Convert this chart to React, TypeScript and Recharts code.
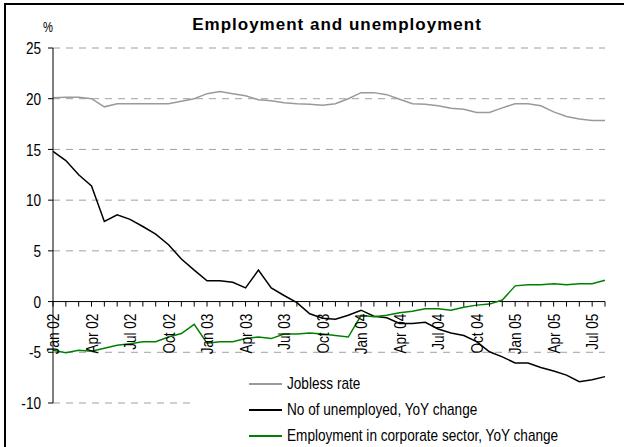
import React from "react";
import { LineChart, Line, XAxis, YAxis, ReferenceLine } from "recharts";

// monthly, Jan 02 .. Aug 05
const months = [
  "Jan 02", "Feb 02", "Mar 02", "Apr 02", "May 02", "Jun 02", "Jul 02", "Aug 02", "Sep 02", "Oct 02", "Nov 02", "Dec 02",
  "Jan 03", "Feb 03", "Mar 03", "Apr 03", "May 03", "Jun 03", "Jul 03", "Aug 03", "Sep 03", "Oct 03", "Nov 03", "Dec 03",
  "Jan 04", "Feb 04", "Mar 04", "Apr 04", "May 04", "Jun 04", "Jul 04", "Aug 04", "Sep 04", "Oct 04", "Nov 04", "Dec 04",
  "Jan 05", "Feb 05", "Mar 05", "Apr 05", "May 05", "Jun 05", "Jul 05", "Aug 05",
];

const joblessRate = [
  20.1, 20.15, 20.15, 20.0, 19.2, 19.5, 19.5, 19.5, 19.5, 19.5, 19.75, 20.0,
  20.5, 20.7, 20.5, 20.3, 19.9, 19.8, 19.6, 19.5, 19.45, 19.35, 19.5, 20.0,
  20.6, 20.6, 20.4, 19.95, 19.5, 19.45, 19.3, 19.05, 18.95, 18.65, 18.65, 19.1,
  19.5, 19.5, 19.3, 18.7, 18.25, 18.0, 17.85, 17.85,
];

const unemployedYoY = [
  14.8, 13.9, 12.5, 11.4, 7.9, 8.55, 8.1, 7.4, 6.65, 5.6, 4.2, 3.1,
  2.05, 2.05, 1.9, 1.35, 3.1, 1.35, 0.6, -0.1, -1.2, -1.65, -1.75, -1.35,
  -0.85, -1.45, -1.6, -2.15, -2.15, -2.05, -2.7, -3.1, -3.35, -3.95, -4.95, -5.45,
  -6.05, -6.05, -6.5, -6.85, -7.25, -7.9, -7.7, -7.4,
];

const corporateYoY = [
  -4.8, -5.05, -4.8, -4.9, -4.6, -4.3, -4.15, -3.95, -3.95, -3.5, -3.15, -2.25,
  -4.1, -3.95, -3.95, -3.65, -3.5, -3.65, -3.2, -3.2, -3.1, -3.2, -3.35, -3.5,
  -1.35, -1.5, -1.35, -1.1, -0.95, -0.7, -0.7, -0.85, -0.55, -0.35, -0.25, 0.15,
  1.55, 1.65, 1.65, 1.75, 1.65, 1.75, 1.75, 2.1,
];

const yTicks = [-10, -5, 0, 5, 10, 15, 20, 25];
const gridValues = [25, 20, 15, 10, 5, -5];

const data = months.map((m, i) => ({
  month: m,
  jobless: joblessRate[i],
  unemployed: unemployedYoY[i],
  corporate: corporateYoY[i],
}));

const FONT = "'Liberation Sans', Arial, sans-serif";
const NARROW = 0.8; // the original uses a condensed face
const GRAY = "#9a9a9a";
const GREEN = "#008000";

// plot geometry
const W = 624;
const H = 447;
const M = { top: 48, right: 19, bottom: 43, left: 0 };
const Y_MIN = -10;
const Y_MAX = 25;
const plotH = H - M.top - M.bottom - 1; // minus x axis height
const zeroY = M.top + ((Y_MAX - 0) / (Y_MAX - Y_MIN)) * plotH;

// category axis crosses at 0, labels every quarter
function MonthTick(props: any) {
  const { x, index, payload } = props;
  return (
    <g>
      <line x1={x} y1={zeroY} x2={x} y2={zeroY + 5} stroke="#000" strokeWidth={1} />
      {index % 3 === 0 && (
        <text
          transform={`translate(${x},${zeroY + 12}) rotate(-90) scale(${NARROW},1)`}
          textAnchor="end"
          dominantBaseline="central"
          fontFamily={FONT}
          fontSize={17}
          fill="#000"
        >
          {payload.value}
        </text>
      )}
    </g>
  );
}

function ValueTick(props: any) {
  const { x, y, payload } = props;
  return (
    <text
      transform={`translate(${x},${y}) scale(${NARROW},1)`}
      textAnchor="end"
      dominantBaseline="central"
      fontFamily={FONT}
      fontSize={17}
      fill="#000"
    >
      {payload.value}
    </text>
  );
}

const legendItems = [
  { label: "Jobless rate", color: GRAY },
  { label: "No of unemployed, YoY change", color: "#000" },
  { label: "Employment in corporate sector, YoY change", color: GREEN },
];

export default function App() {
  return (
    <div
      style={{
        position: "absolute",
        left: 0,
        top: 0,
        width: W,
        height: H,
        overflow: "hidden",
        background: "#fff",
      }}
    >
      {/* frame */}
      <div
        style={{
          position: "absolute",
          left: 4,
          top: 3,
          width: 700,
          height: 500,
          borderTop: "2px solid #000",
          borderLeft: "2px solid #000",
        }}
      />
      <div
        style={{
          position: "absolute",
          left: 0,
          width: 674,
          top: 15,
          textAlign: "center",
          fontFamily: FONT,
          fontWeight: "bold",
          fontSize: 17,
          letterSpacing: 1,
          color: "#000",
          lineHeight: "20px",
        }}
      >
        Employment and unemployment
      </div>
      <div
        style={{
          position: "absolute",
          left: 43,
          top: 19,
          fontFamily: FONT,
          fontSize: 14,
          color: "#000",
          lineHeight: "16px",
          transform: `scaleX(${NARROW})`,
          transformOrigin: "left",
        }}
      >
        %
      </div>

      <div style={{ position: "absolute", left: 0, top: 0 }}>
        <LineChart width={W} height={H} data={data} margin={M}>
          <XAxis
            dataKey="month"
            height={1}
            interval={0}
            axisLine={false}
            tickLine={false}
            tick={<MonthTick />}
          />
          <YAxis
            width={53}
            domain={[Y_MIN, Y_MAX]}
            ticks={yTicks}
            interval={0}
            tickSize={5}
            tickMargin={7}
            axisLine={{ stroke: "#000" }}
            tickLine={{ stroke: "#000" }}
            tick={<ValueTick />}
          />
          {gridValues.map((v) => (
            <ReferenceLine key={v} y={v} stroke="#a0a0a0" strokeDasharray="7 6" />
          ))}
          <ReferenceLine
            segment={[
              { x: months[0], y: -10 },
              { x: months[11], y: -10 },
            ]}
            stroke="#a0a0a0"
            strokeDasharray="7 6"
          />
          <ReferenceLine y={0} stroke="#000" strokeWidth={1} />
          <Line
            dataKey="jobless"
            type="linear"
            stroke={GRAY}
            strokeWidth={1.5}
            dot={false}
            isAnimationActive={false}
          />
          <Line
            dataKey="unemployed"
            type="linear"
            stroke="#000"
            strokeWidth={1.5}
            dot={false}
            isAnimationActive={false}
          />
          <Line
            dataKey="corporate"
            type="linear"
            stroke={GREEN}
            strokeWidth={1.5}
            dot={false}
            isAnimationActive={false}
          />
        </LineChart>
      </div>

      {/* legend */}
      <div style={{ position: "absolute", left: 249, top: 371 }}>
        {legendItems.map((it) => (
          <div
            key={it.label}
            style={{ display: "flex", alignItems: "center", height: 26, whiteSpace: "nowrap" }}
          >
            <span
              style={{ display: "inline-block", width: 33, height: 0, borderTop: `2px solid ${it.color}`, marginRight: 5 }}
            />
            <span
              style={{
                display: "inline-block",
                fontFamily: FONT,
                fontSize: 17,
                color: "#000",
                transform: `scaleX(${NARROW})`,
                transformOrigin: "left",
              }}
            >
              {it.label}
            </span>
          </div>
        ))}
      </div>
    </div>
  );
}
